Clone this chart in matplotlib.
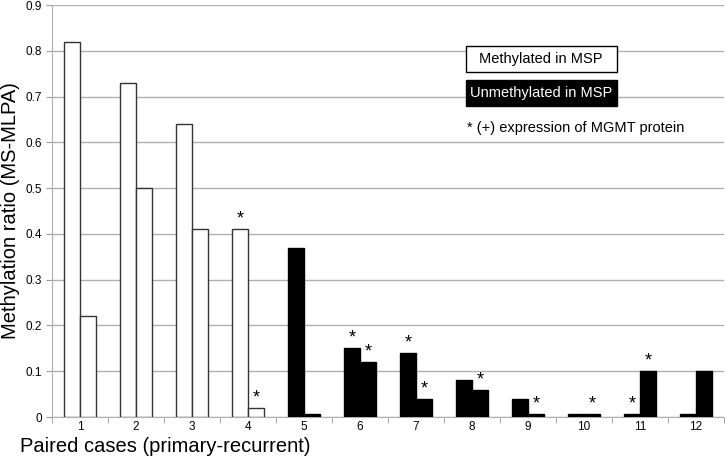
import matplotlib
matplotlib.use("Agg")
import matplotlib.pyplot as plt
from matplotlib.patches import Rectangle
import numpy as np

plt.rcParams['font.family'] = ['Liberation Sans', 'DejaVu Sans']

cases = ['1', '2', '3', '4', '5', '6', '7', '8', '9', '10', '11', '12']
primary = [0.82, 0.73, 0.64, 0.41, 0.37, 0.15, 0.14, 0.08, 0.04, 0.007, 0.007, 0.007]
recurrent = [0.22, 0.50, 0.41, 0.02, 0.007, 0.12, 0.04, 0.06, 0.007, 0.007, 0.10, 0.10]
methylated = [True, True, True, True, False, False, False, False, False, False, False, False]
star_primary = [False, False, False, True, False, True, True, False, False, False, True, False]
star_recurrent = [False, False, False, True, False, True, True, True, True, True, True, False]

fig = plt.figure(figsize=(7.25, 4.62), dpi=100)
ax = fig.add_axes([52 / 725, 45 / 462, 672 / 725, 412 / 462])

x = np.arange(1, len(cases) + 1)
w = 0.28
for i in range(len(cases)):
    face = 'white' if methylated[i] else 'black'
    edge = '#333333' if methylated[i] else 'black'
    for val, off, star in [(primary[i], -w / 2, star_primary[i]), (recurrent[i], w / 2, star_recurrent[i])]:
        ax.bar(x[i] + off, val, width=w, color=face, edgecolor=edge, linewidth=1, zorder=3)
        if star:
            ax.annotate('*', (x[i] + off, val), xytext=(0, 1), textcoords='offset points',
                        ha='center', va='bottom', fontsize=13, zorder=4)

ax.set_xlim(0.5, 12.5)
ax.set_ylim(0, 0.9)
ax.set_yticks(np.arange(0, 0.91, 0.1))
ax.set_yticklabels(['0'] + ['%.1f' % v for v in np.arange(0.1, 0.91, 0.1)], fontsize=8.5)
ax.yaxis.grid(True, color='#b0b0b0', linewidth=1, zorder=0)
ax.set_xticks(x)
ax.set_xticklabels(cases, fontsize=8.5)
ax.set_xticks(np.arange(0.5, 12.6, 1), minor=True)
ax.tick_params(axis='x', which='major', length=0, pad=3)
ax.tick_params(axis='x', which='minor', length=4, color='#999999', direction='out')
ax.tick_params(axis='y', length=4, color='#999999', direction='out', pad=3)
for s in ['top', 'right']:
    ax.spines[s].set_visible(False)
ax.spines['left'].set_color('#b0b0b0')
ax.spines['bottom'].set_color('#b0b0b0')

ax.set_ylabel('Methylation ratio (MS-MLPA)', fontsize=14.5, labelpad=4)
fig.text(20 / 725, 1 - 446 / 462, 'Paired cases (primary-recurrent)', fontsize=14.5, ha='left', va='center')

fig.patches.append(Rectangle((466 / 725, 1 - 72 / 462), 151 / 725, 26 / 462, transform=fig.transFigure,
                             facecolor='white', edgecolor='black', linewidth=1, zorder=5))
fig.patches.append(Rectangle((466 / 725, 1 - 106 / 462), 151 / 725, 26 / 462, transform=fig.transFigure,
                             facecolor='black', edgecolor='black', linewidth=1, zorder=5))
fig.text(541 / 725, 1 - 59 / 462, 'Methylated in MSP', fontsize=10.5, ha='center', va='center', zorder=6)
fig.text(541 / 725, 1 - 93 / 462, 'Unmethylated in MSP', fontsize=10.5, ha='center', va='center',
         color='white', zorder=6)
fig.text(467 / 725, 1 - 128 / 462, '* (+) expression of MGMT protein', fontsize=10.5, ha='left', va='center')

fig.savefig('out.png', dpi=100)
